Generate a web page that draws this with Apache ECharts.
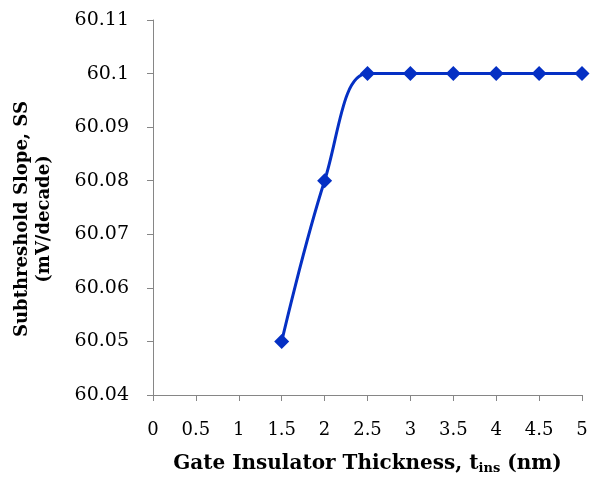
<!DOCTYPE html>
<html><head><meta charset="utf-8">
<script src="https://cdn.jsdelivr.net/npm/echarts@6/dist/echarts.min.js"></script>
<style>html,body{margin:0;padding:0;background:#fff}#c{width:590px;height:481px}</style>
</head><body><div id="c"></div>
<script>
const xValues = [1.5, 2, 2.5, 3, 3.5, 4, 4.5, 5];
const ssValues = [60.05, 60.08, 60.1, 60.1, 60.1, 60.1, 60.1, 60.1];
const xTitle = 'Gate Insulator Thickness, t';
const yTitle = 'Subthreshold Slope, SS\n(mV/decade)';
const chart = echarts.init(document.getElementById('c'), null, {renderer:'canvas'});
const font = 'DejaVu Serif';
chart.setOption({
  animation:false,
  grid:{left:153,right:8,top:20,bottom:86,containLabel:false,outerBoundsMode:'none'},
  graphic:[{type:'text',x:33,y:219,rotation:Math.PI/2,
    style:{text:yTitle,fontFamily:font,fontWeight:'bold',fontSize:18,fill:'#000',
      lineHeight:22,align:'center',verticalAlign:'middle'}}],
  xAxis:{type:'value',min:0,max:5,interval:0.5,
    axisLine:{onZero:false,lineStyle:{color:'#868686',width:1}},
    axisTick:{show:true,length:6,lineStyle:{color:'#868686'}},
    splitLine:{show:false},
    axisLabel:{color:'#000',fontFamily:font,fontSize:18,margin:26},
    name:'{a|'+xTitle+'}{s|ins}{a| (nm)}',nameLocation:'middle',nameGap:57,
    nameTextStyle:{rich:{a:{fontFamily:font,fontWeight:'bold',fontSize:20,color:'#000'},
      s:{fontFamily:font,fontWeight:'bold',fontSize:13,color:'#000',verticalAlign:'bottom',padding:[10,0,0,0]}}}
  },
  yAxis:{type:'value',min:60.04,max:60.11,interval:0.01,
    axisLine:{show:true,lineStyle:{color:'#868686',width:1}},
    axisTick:{show:true,length:6,lineStyle:{color:'#868686'}},
    splitLine:{show:false},
    axisLabel:{color:'#000',fontFamily:font,fontSize:19,margin:24,
      formatter:v=>parseFloat(v.toFixed(2)).toString()}
  },
  series:[{type:'line',data:xValues.map((x,i)=>[x,ssValues[i]]),smooth:0.4,
    symbol:'diamond',symbolSize:15,
    lineStyle:{color:'#0530C4',width:3},itemStyle:{color:'#0530C4'}}]
});
</script></body></html>
